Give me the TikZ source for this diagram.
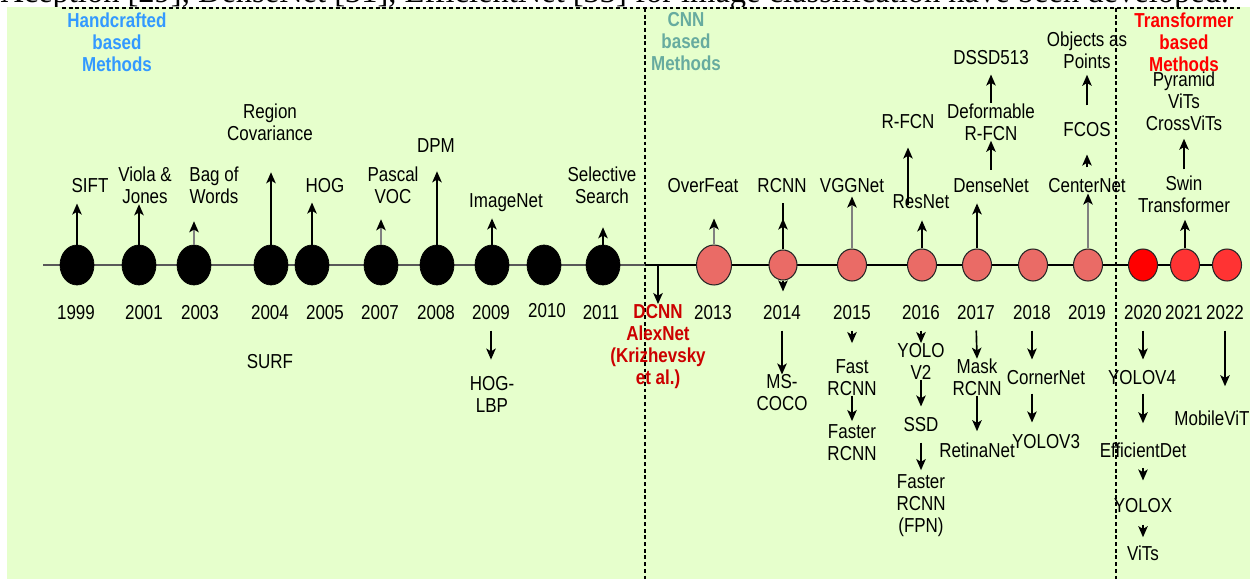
\documentclass[tikz,border=0pt]{standalone}
\usepackage{fontspec}
\setmainfont{Liberation Sans}[FakeStretch=0.84]
\newfontfamily\pagefont{Liberation Serif}
\usepackage{tikz}
\usetikzlibrary{arrows.meta}
\usetikzlibrary{shapes.geometric}

\definecolor{bggreen}{HTML}{E6FFCC}
\definecolor{salmon}{HTML}{EA6B66}
\definecolor{hotred}{HTML}{FF3333}
\definecolor{handblue}{HTML}{3399FF}
\definecolor{cnnteal}{HTML}{67AB9F}
\definecolor{dcnnred}{HTML}{CC0000}

\begin{document}
\begin{tikzpicture}[x=0.02cm,y=-0.02cm,
	lbl/.style={inner sep=0pt,align=center,font=\fontsize{11.5}{12.5}\selectfont},
	title/.style={lbl,font=\fontsize{11.5}{12.5}\selectfont\bfseries},
	hand/.style={ellipse,draw=black,fill=black,minimum width=0.68cm,minimum height=0.8cm,inner sep=0pt},
	cnn/.style={ellipse,draw=black!85,line width=0.6pt,fill=salmon,minimum width=0.58cm,minimum height=0.64cm,inner sep=0pt},
	arr/.style={-{Stealth[length=6.3pt,width=5.4pt,inset=1.6pt]},line width=0.95pt},
	garr/.style={-{Stealth[length=6.3pt,width=5.4pt,inset=1.6pt,color=black,fill=black]},line width=1pt,draw=black!50},
	divider/.style={dash pattern=on 2.2pt off 1.6pt,line width=0.6pt}]
	\useasboundingbox (0,0) rectangle (1250,581);
	\begin{scope}
		\clip (0,0) rectangle (1250,9);
		\node[anchor=base west,inner sep=0pt,font=\pagefont\fontsize{18.5}{20}\selectfont] (head) at (0,3)
			{Xception [29], DenseNet [31], EfficientNet [33] for image classification have been developed.};
	\end{scope}
	\fill[bggreen] (7,7) rectangle (1250,579);
	\draw[divider] (62,8) -- (1240,8);
	\draw[divider] (645,8) -- (645,579);
	\draw[divider] (1116,8) -- (1116,579);
	
	% titles
	\node[title,text=handblue] (hand_t) at (117,42) {Handcrafted\\based\\Methods};
	\node[title,text=cnnteal] (cnn_t) at (686,42) {CNN\\based\\Methods};
	\node[title,text=red] (trans_t) at (1184,42) {Transformer\\based\\Methods};
	
	% timeline
	\coordinate (tl_start) at (43,265);
	\coordinate (tl_split) at (645,265);
	\coordinate (tl_end) at (1227,265);
	\draw[line width=1.7pt,draw=black!65] (tl_start) -- (tl_split);
	\draw[line width=1pt] (tl_split) -- (tl_end);
	
	\node[hand] (c_1999) at (77,265) {};  \node[hand] (c_2001) at (139,265) {};
	\node[hand] (c_2003) at (194,265) {}; \node[hand] (c_2004) at (271,265) {};
	\node[hand] (c_2005) at (312,265) {}; \node[hand] (c_2007) at (381,265) {};
	\node[hand] (c_2008) at (437,265) {}; \node[hand] (c_2009) at (492,265) {};
	\node[hand] (c_2010) at (544,265) {}; \node[hand] (c_2011) at (603,265) {};
	\node[cnn,minimum width=0.7cm,minimum height=0.8cm] (c_2013) at (714,265) {};
	\node[cnn,minimum width=0.56cm,minimum height=0.6cm] (c_2014) at (783,265) {};
	\node[cnn] (c_2015) at (852,265) {};  \node[cnn] (c_2016) at (922,265) {};
	\node[cnn] (c_2017) at (977,265) {};  \node[cnn] (c_2018) at (1033,265) {};
	\node[cnn] (c_2019) at (1088,265) {};
	\node[cnn,fill=red] (c_2020) at (1143,265) {};
	\node[cnn,fill=hotred] (c_2021) at (1185,265) {};
	\node[cnn,fill=hotred] (c_2022) at (1227,265) {};
	
	% years
	\node[lbl] (t_1999) at (76,313) {1999};  \node[lbl] (t_2001) at (144,313) {2001};
	\node[lbl] (t_2003) at (200,313) {2003}; \node[lbl] (t_2004) at (270,313) {2004};
	\node[lbl] (t_2005) at (325,313) {2005}; \node[lbl] (t_2007) at (380,313) {2007};
	\node[lbl] (t_2008) at (436,313) {2008}; \node[lbl] (t_2009) at (491,313) {2009};
	\node[lbl] (t_2010) at (547,311) {2010}; \node[lbl] (t_2011) at (601,313) {2011};
	\node[lbl] (t_2013) at (713,313) {2013}; \node[lbl] (t_2014) at (782,313) {2014};
	\node[lbl] (t_2015) at (852,313) {2015}; \node[lbl] (t_2016) at (921,313) {2016};
	\node[lbl] (t_2017) at (976,313) {2017}; \node[lbl] (t_2018) at (1032,313) {2018};
	\node[lbl] (t_2019) at (1087,313) {2019}; \node[lbl] (t_2020) at (1143,313) {2020};
	\node[lbl] (t_2021) at (1184,313) {2021}; \node[lbl] (t_2022) at (1225,313) {2022};
	
	% above the line
	\node[lbl] (sift) at (90,186) {SIFT};
	\node[lbl] (viola) at (145,185.5) {Viola \&\\Jones};
	\node[lbl] (bow) at (214,185.5) {Bag of\\Words};
	\node[lbl] (regcov) at (270,122.5) {Region\\Covariance};
	\node[lbl] (hog) at (325,186) {HOG};
	\node[lbl] (voc) at (393,185.5) {Pascal\\VOC};
	\node[lbl] (dpm) at (436,146) {DPM};
	\node[lbl] (imgnet) at (506,203) {ImageNet};
	\node[lbl] (selsearch) at (602,185.5) {Selective\\Search};
	\node[lbl] (overfeat) at (703,186) {OverFeat};
	\node[lbl] (rcnn) at (782,186) {RCNN};
	\node[lbl] (vgg) at (852,186) {VGGNet};
	\node[lbl] (resnet) at (921,202) {ResNet};
	\node[lbl] (rfcn) at (908,122) {R-FCN};
	\node[lbl] (densenet) at (991,186) {DenseNet};
	\node[lbl] (deform) at (991,122) {Deformable\\R-FCN};
	\node[lbl] (dssd) at (991,58) {DSSD513};
	\node[lbl] (centernet) at (1087,186) {CenterNet};
	\node[lbl] (fcos) at (1087,130) {FCOS};
	\node[lbl] (objpts) at (1087,50) {Objects as\\Points};
	\node[lbl] (swin) at (1184,194) {Swin\\Transformer};
	\node[lbl] (pvit) at (1184,101) {Pyramid\\ViTs\\CrossViTs};
	
	% below the line
	\node[lbl] (surf) at (270,362) {SURF};
	\node[lbl] (hoglbp) at (492,394) {HOG-\\LBP};
	\node[title,text=dcnnred] (dcnn) at (658,346.5) {DCNN\\AlexNet\\(Krizhevsky\\et al.)};
	\node[lbl] (mscoco) at (782,393) {MS-\\COCO};
	\node[lbl] (fast) at (852,377.5) {Fast\\RCNN};
	\node[lbl] (faster) at (852,442.5) {Faster\\RCNN};
	\node[lbl] (yolo2) at (921,361.5) {YOLO\\V2};
	\node[lbl] (ssd) at (921,425) {SSD};
	\node[lbl] (fpn) at (921,505.5) {Faster\\RCNN\\(FPN)};
	\node[lbl] (mask) at (977,377.5) {Mask\\RCNN};
	\node[lbl] (retina) at (977,450) {RetinaNet};
	\node[lbl] (corner) at (1046,378) {CornerNet};
	\node[lbl] (yolo3) at (1046,442) {YOLOV3};
	\node[lbl] (yolo4) at (1142,378) {YOLOV4};
	\node[lbl] (effdet) at (1143,450) {EfficientDet};
	\node[lbl] (yolox) at (1143,506) {YOLOX};
	\node[lbl] (vits) at (1143,553) {ViTs};
	\node[lbl] (mobvit) at (1212,418) {MobileViT};
	
	% arrows up
	\draw[arr,shorten >=0.2cm] (c_1999.north) -- (c_1999 |- sift.south);
	\draw[arr] (c_2001.north) -- (c_2001 |- viola.south);
	\draw[garr,shorten >=0.34cm] (c_2003.north) -- (c_2003 |- bow.south);
	\draw[arr,shorten >=0.62cm] (c_2004.north) -- (c_2004 |- regcov.south);
	\draw[arr,shorten >=0.18cm] (c_2005.north) -- (c_2005 |- hog.south);
	\draw[garr,shorten >=0.3cm] (c_2007.north) -- (c_2007 |- voc.south);
	\draw[arr,shorten >=0.36cm] (c_2008.north) -- (c_2008 |- dpm.south);
	\draw[arr,shorten >=0.12cm] (c_2009.north) -- (c_2009 |- imgnet.south);
	\draw[arr,shorten >=0.46cm] (c_2011.north) -- (c_2011 |- selsearch.south);
	\draw[garr,shorten >=0.5cm] (c_2013.north) -- (c_2013 |- overfeat.south);
	\draw[line width=0.95pt,shorten >=0.18cm] (c_2014.north) -- (c_2014 |- rcnn.south);
	\draw[arr,shorten >=0.5cm] (c_2014.north) -- (c_2014 |- rcnn.south);
	\draw[garr,shorten >=0.06cm] (c_2015.north) -- (c_2015 |- vgg.south);
	\draw[arr,shorten >=0.22cm] (c_2016.north) -- (c_2016 |- resnet.south);
	\draw[arr,shorten <=-0.2cm,shorten >=0.36cm] (rfcn |- resnet.north) -- (rfcn.south);
	\draw[arr,shorten >=0.2cm] (c_2017.north) -- (c_2017 |- densenet.south);
	\draw[arr,shorten <=0.18cm] (deform |- densenet.north) -- (deform.south);
	\draw[arr,shorten >=0.18cm] (dssd |- deform.north) -- (dssd.south);
	\draw[garr] (c_2019.north) -- (c_2019 |- centernet.south);
	\draw[arr,shorten <=0.22cm,shorten >=0.34cm] (centernet.north) -- (fcos.south);
	\draw[arr,shorten <=0.34cm,shorten >=0.12cm] (fcos.north) -- (objpts.south);
	\draw[arr,shorten >=0.14cm] (c_2021.north) -- (c_2021 |- swin.south);
	\draw[arr,shorten <=0.12cm,shorten >=0.16cm] (swin.north) -- (pvit.south);
	
	% arrows down
	\draw[arr,shorten >=0.28cm] (c_2014.south) -- (c_2014 |- t_2014.north);
	\draw[arr] (dcnn.north |- c_2011) -- (dcnn.north);
	\draw[arr,shorten <=0.2cm,shorten >=0.32cm] (t_2009.south) -- (t_2009 |- hoglbp.north);
	\draw[arr,shorten <=0.2cm] (t_2014.south) -- (mscoco.north);
	\draw[arr,shorten <=0.2cm,shorten >=0.32cm] (t_2015.south) -- (fast.north);
	\draw[arr,shorten >=0.06cm] (fast.south) -- (faster.north);
	\draw[arr,shorten <=0.2cm] (t_2016.south) -- (yolo2.north);
	\draw[arr,shorten >=0.22cm] (yolo2.south) -- (ssd.north);
	\draw[arr,shorten <=0.2cm,shorten >=0.08cm] (ssd.south) -- (fpn.north);
	\draw[arr,shorten <=0.2cm] (t_2017.south) -- (mask.north);
	\draw[arr,shorten >=0.22cm] (mask.south) -- (retina.north);
	\draw[arr,shorten <=0.2cm,shorten >=0.22cm] (t_2018.south) -- (t_2018 |- corner.north);
	\draw[arr,shorten <=0.16cm,shorten >=0.24cm] (t_2018 |- corner.south) -- (t_2018 |- yolo3.north);
	\draw[arr,shorten <=0.2cm,shorten >=0.22cm] (t_2020.south) -- (t_2020 |- yolo4.north);
	\draw[arr,shorten <=0.16cm,shorten >=0.38cm] (t_2020 |- yolo4.south) -- (t_2020 |- effdet.north);
	\draw[arr,shorten <=0.2cm,shorten >=0.36cm] (effdet.south) -- (yolox.north);
	\draw[arr,shorten <=0.22cm,shorten >=0.16cm] (yolox.south) -- (vits.north);
	\draw[arr,shorten <=0.2cm,shorten >=0.48cm] (t_2022.south) -- (t_2022 |- mobvit.north);
\end{tikzpicture}
\end{document}
